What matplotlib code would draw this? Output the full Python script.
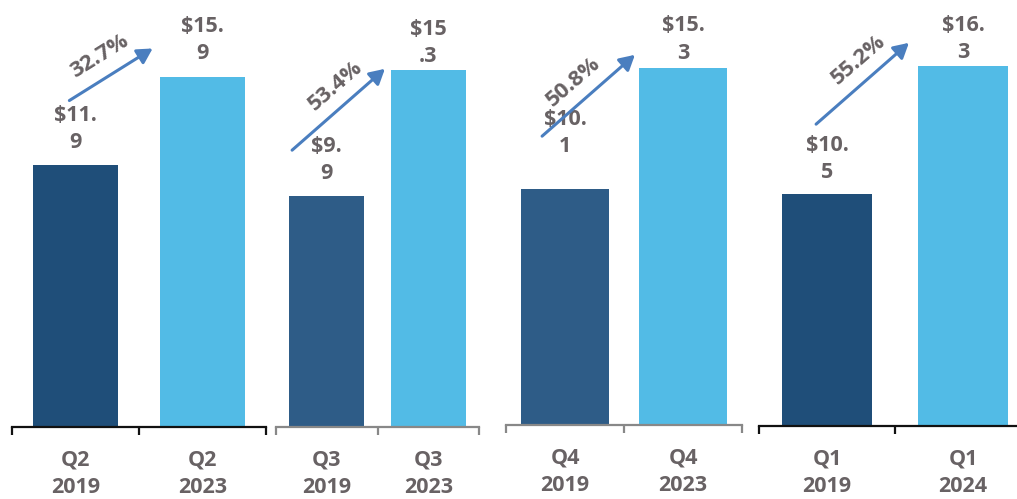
import matplotlib
matplotlib.use('Agg')
import matplotlib.pyplot as plt

# data
quarters = ['Q2', 'Q3', 'Q4', 'Q1']
years_before = ['2019', '2019', '2019', '2019']
years_after = ['2023', '2023', '2023', '2024']
before = [11.9, 9.9, 10.1, 10.5]
after = [15.9, 15.3, 15.3, 16.3]
before_labels = ['$11.\n9', '$9.\n9', '$10.\n1', '$10.\n5']
after_labels = ['$15.\n9', '$15\n.3', '$15.\n3', '$16.\n3']
growth = ['32.7%', '53.4%', '50.8%', '55.2%']

W, H = 1017, 499
GREY = '#686264'
LIGHT = '#52bbe6'
ARROW = '#4a7ebf'
FONT = ['Open Sans', 'DejaVu Sans']
FS = 15.5

# layout per panel (pixels of the picture): left, right, baseline, y max, axis colour, dark bar colour, bar width
panels = [
    (12, 266, 427, 19.4, '#111111', '#1f4e79', 0.67),
    (276, 479, 427, 18.3, '#888888', '#2e5c87', 0.74),
    (506, 742, 425, 18.2, '#888888', '#2e5c87', 0.74),
    (759, 1031, 426, 19.3, '#111111', '#1f4e79', 0.66),
]
# gap between bar top and label glyphs, pixels
label_gaps = [(18, 19), (18, 9), (38, 10), (17, 9)]
# arrow start, arrow tip, text centre, text angle
arrows = [
    ((67, 102), (155, 47), (100, 56), 32),
    ((290, 152), (387, 67), (336, 86), 41),
    ((540, 138), (637, 53), (573, 82), 41),
    ((814, 126), (911, 41), (859, 60), 41),
]

fig = plt.figure(figsize=(W / 100, H / 100), dpi=100)


def fx(x):
    return x / W


def fy(y):
    return 1 - y / H


for i, (left, right, base, ymax, axcol, dark, bw) in enumerate(panels):
    ax = fig.add_axes([fx(left), fy(base), (right - left) / W, base / H])
    ax.bar([0, 1], [before[i], after[i]], width=bw, color=[dark, LIGHT])
    ax.set_xlim(-0.5, 1.5)
    ax.set_ylim(0, ymax)
    for s in ['top', 'left', 'right']:
        ax.spines[s].set_visible(False)
    ax.spines['bottom'].set_color(axcol)
    ax.spines['bottom'].set_linewidth(1.6)
    ax.set_yticks([])
    ax.set_xticks([-0.5, 0.5, 1.5], minor=True)
    ax.set_xticks([0, 1])
    ax.set_xticklabels([quarters[i] + '\n' + years_before[i], quarters[i] + '\n' + years_after[i]],
                       fontsize=FS, fontweight='bold', color=GREY, family=FONT, linespacing=1.4)
    ax.tick_params(which='minor', length=6, width=1.6, color=axcol, direction='out')
    ax.tick_params(which='major', length=0, pad=16)
    for j, (v, lab) in enumerate([(before[i], before_labels[i]), (after[i], after_labels[i])]):
        gap = label_gaps[i][j] - 6
        ax.annotate(lab, xy=(j, v), xytext=(0, gap * 0.72), textcoords='offset points',
                    ha='center', va='bottom', fontsize=FS, fontweight='bold', color=GREY,
                    family=FONT, linespacing=1.4, annotation_clip=False)

for (x0, y0), (x1, y1), (tx, ty), ang in arrows:
    fig.add_artist(matplotlib.patches.FancyArrowPatch(
        (fx(x0), fy(y0)), (fx(x1), fy(y1)), transform=fig.transFigure,
        arrowstyle='-|>,head_length=9,head_width=5', lw=2.2, color=ARROW))

for k, ((x0, y0), (x1, y1), (tx, ty), ang) in enumerate(arrows):
    fig.text(fx(tx), fy(ty), growth[k], rotation=ang, ha='center', va='center',
             rotation_mode='anchor', fontsize=16, fontweight='bold', color=GREY, family=FONT)

fig.savefig('out.png', dpi=100)
